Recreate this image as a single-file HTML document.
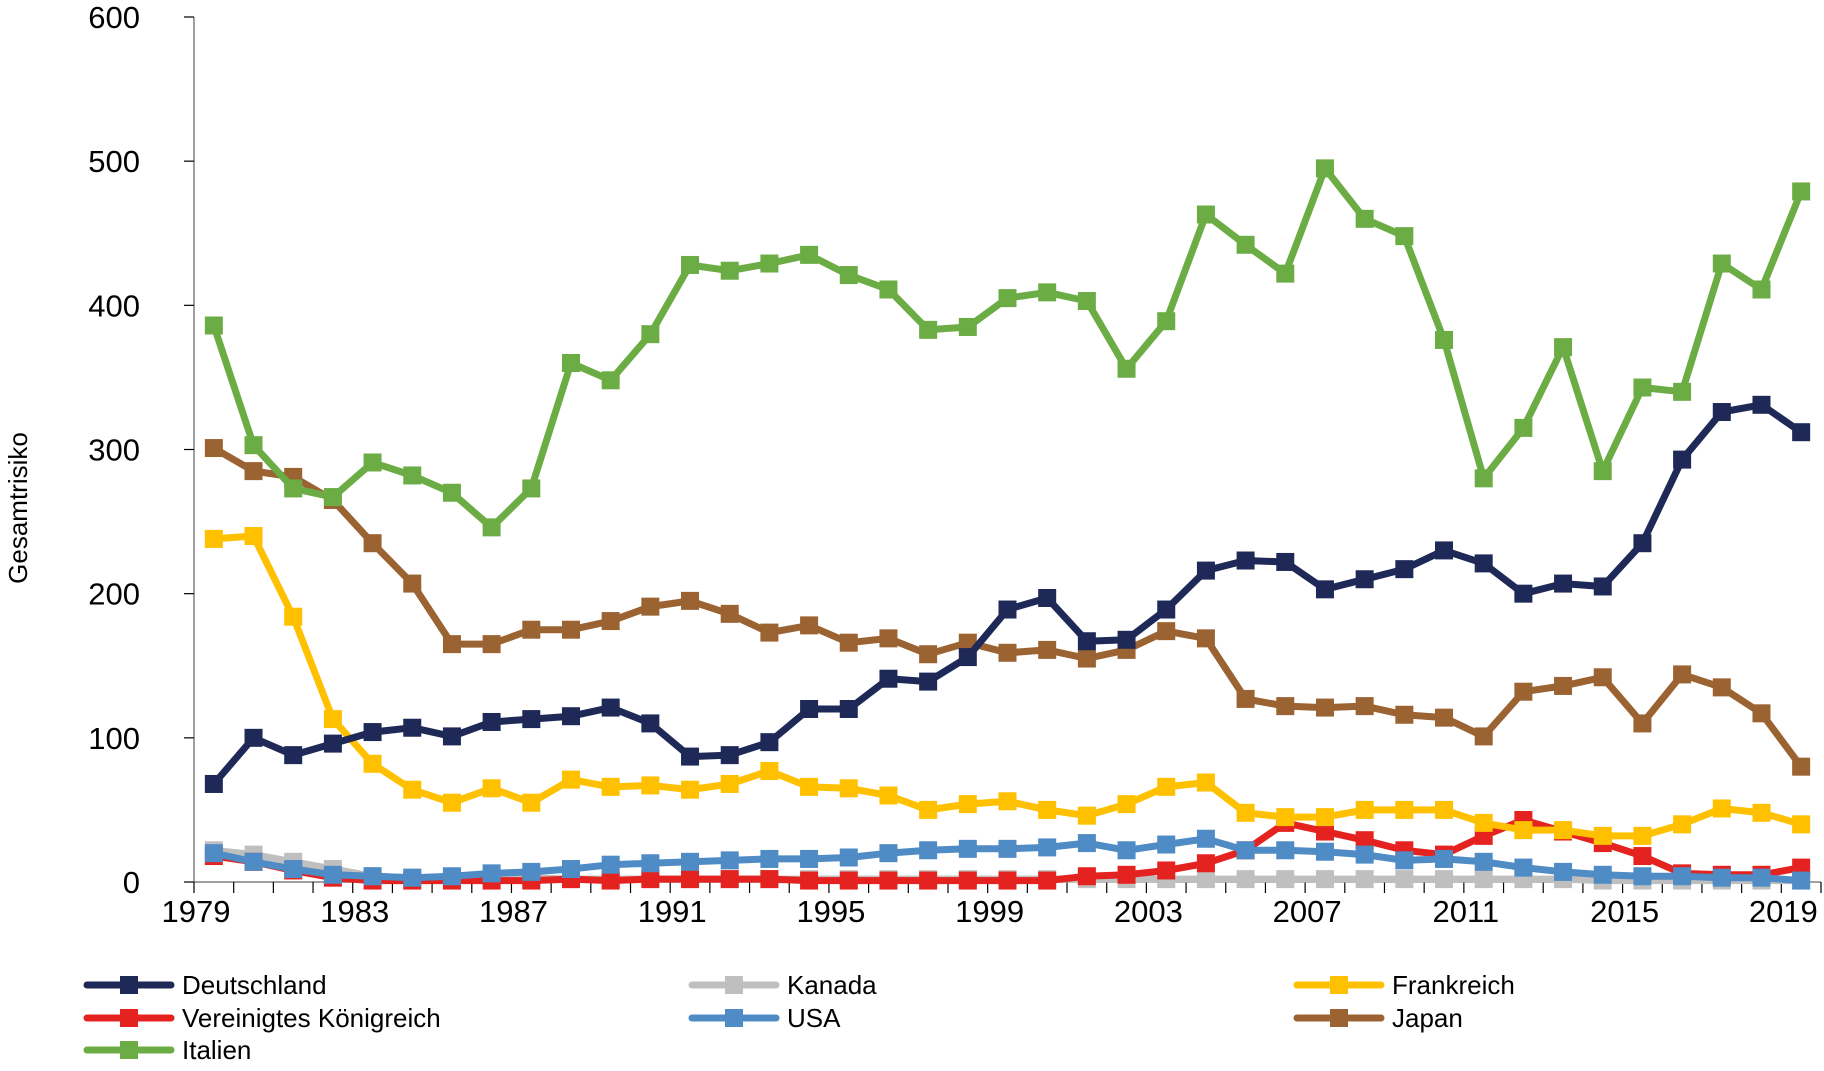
<!DOCTYPE html>
<html><head><meta charset="utf-8"><style>
html,body{margin:0;padding:0;background:#fff;}
svg{display:block;font-family:"Liberation Sans","DejaVu Sans",sans-serif;}
</style></head><body>
<svg id="chart" width="1824" height="1071" viewBox="0 0 1824 1071">
<g id="axes"></g>
<g id="series"></g>
<g id="legend"></g>
<text x="27" y="508" font-size="26" text-anchor="middle" transform="rotate(-90 27 508)" fill="#000">Gesamtrisiko</text>
</svg>
<script>
const years = [];
for (let y = 1979; y <= 2019; y++) years.push(y);
const yTicks = [0,100,200,300,400,500,600];
const xLabels = [1979,1983,1987,1991,1995,1999,2003,2007,2011,2015,2019];
const deutschland = [68,100,88,96,104,107,101,111,113,115,121,110,87,88,97,120,120,141,139,156,189,197,167,168,189,216,223,222,203,210,217,230,221,200,207,205,235,293,326,331,312];
const italien = [386,303,273,267,291,282,270,246,273,360,348,380,428,424,429,435,421,411,383,385,405,409,403,356,389,463,442,422,495,460,448,376,280,315,371,285,343,340,429,411,479];
const japan = [301,285,281,265,235,207,165,165,175,175,181,191,195,186,173,178,166,169,158,166,159,161,155,161,174,169,127,122,121,122,116,114,101,132,136,142,110,144,135,117,80];
const frankreich = [238,240,184,113,82,64,55,65,55,71,66,67,64,68,77,66,65,60,50,54,56,50,46,54,66,69,48,45,45,50,50,50,41,36,36,32,32,40,51,48,40];
const uk = [18,14,8,3,1,1,1,1,1,2,1,2,2,2,2,1,1,1,1,1,1,1,4,5,8,13,22,41,35,29,22,19,32,43,35,27,18,6,5,5,10];
const usa = [20,14,9,5,4,3,4,6,7,9,12,13,14,15,16,16,17,20,22,23,23,24,27,22,26,30,22,22,21,19,15,16,14,10,7,5,4,4,3,3,1];
const kanada = [22,19,14,9,4,3,3,3,3,2,2,2,2,2,2,2,2,2,2,2,2,2,2,2,2,2,2,2,2,2,2,2,2,2,2,1,1,1,1,1,1];

const NS = "http://www.w3.org/2000/svg";
const X0 = 194, X1 = 1821, Y0 = 882, Y600 = 17;
const catW = (X1 - X0) / years.length;
const xPos = i => X0 + catW * (i + 0.5);
const xBound = i => X0 + catW * i;
const yPos = v => Y0 - (v / 600) * (Y0 - Y600);
function mk(tag, attrs, parent) {
  const e = document.createElementNS(NS, tag);
  for (const k in attrs) e.setAttribute(k, attrs[k]);
  parent.appendChild(e);
  return e;
}
const axes = document.getElementById('axes');
let e = mk('line', {x1:X0, y1:Y600, x2:X0, y2:Y0, stroke:'#808080', 'stroke-width':1.5}, axes);


e = mk('line', {x1:X0, y1:Y0, x2:X1, y2:Y0, stroke:'#808080', 'stroke-width':1.5}, axes);


yTicks.forEach(v => {
  const t = mk('line', {x1:X0-10, y1:yPos(v), x2:X0, y2:yPos(v), stroke:'#000', 'stroke-width':1.2}, axes);
  
  
  const l = mk('text', {x:140, y:yPos(v)+11, 'font-size':31, 'text-anchor':'end', fill:'#000'}, axes);
  l.textContent = v;
  
  
});
for (let i = 0; i <= years.length; i++) {
  const t = mk('line', {x1:xBound(i), y1:Y0, x2:xBound(i), y2:Y0+11, stroke:'#000', 'stroke-width':1.2}, axes);
  
  
}
xLabels.forEach(yr => {
  const i = years.indexOf(yr);
  const l = mk('text', {x:xBound(i)+2, y:Y0+40, 'font-size':31, 'text-anchor':'middle', fill:'#000'}, axes);
  l.textContent = yr;
  
  
});
const seriesList = [
  {name:'kanada', data:kanada, color:'#bfbfbf'},
  {name:'vereinigtes-koenigreich', data:uk, color:'#e42320'},
  {name:'usa', data:usa, color:'#4f8bc4'},
  {name:'frankreich', data:frankreich, color:'#ffc000'},
  {name:'japan', data:japan, color:'#9b6232'},
  {name:'deutschland', data:deutschland, color:'#1f2957'},
  {name:'italien', data:italien, color:'#6cac45'}
];
const sg = document.getElementById('series');
seriesList.forEach(s => {
  const g = mk('g', {}, sg);
  
  
  const pts = s.data.map((v,i) => xPos(i).toFixed(1) + ',' + yPos(v).toFixed(1)).join(' ');
  const pl = mk('polyline', {points:pts, fill:'none', stroke:s.color, 'stroke-width':7, 'stroke-linejoin':'round'}, g);
  
  
  s.data.forEach((v,i) => {
    const r = mk('rect', {x:xPos(i)-9, y:yPos(v)-9, width:18, height:18, fill:s.color}, g);
    
    
  });
});
const legendItems = [
  {label:'Deutschland', color:'#1f2957', x:87, y:985},
  {label:'Vereinigtes Königreich', color:'#e42320', x:87, y:1018},
  {label:'Italien', color:'#6cac45', x:87, y:1050},
  {label:'Kanada', color:'#bfbfbf', x:692, y:985},
  {label:'USA', color:'#4f8bc4', x:692, y:1018},
  {label:'Frankreich', color:'#ffc000', x:1297, y:985},
  {label:'Japan', color:'#9b6232', x:1297, y:1018}
];
const lg = document.getElementById('legend');
legendItems.forEach(it => {
  const g = mk('g', {}, lg);
  
  
  mk('line', {x1:it.x, y1:it.y, x2:it.x+84, y2:it.y, stroke:it.color, 'stroke-width':7, 'stroke-linecap':'round'}, g);
  mk('rect', {x:it.x+33, y:it.y-9, width:18, height:18, fill:it.color}, g);
  const t = mk('text', {x:it.x+95, y:it.y+9, 'font-size':26, fill:'#000'}, g);
  t.textContent = it.label;
});
</script>
</body></html>
